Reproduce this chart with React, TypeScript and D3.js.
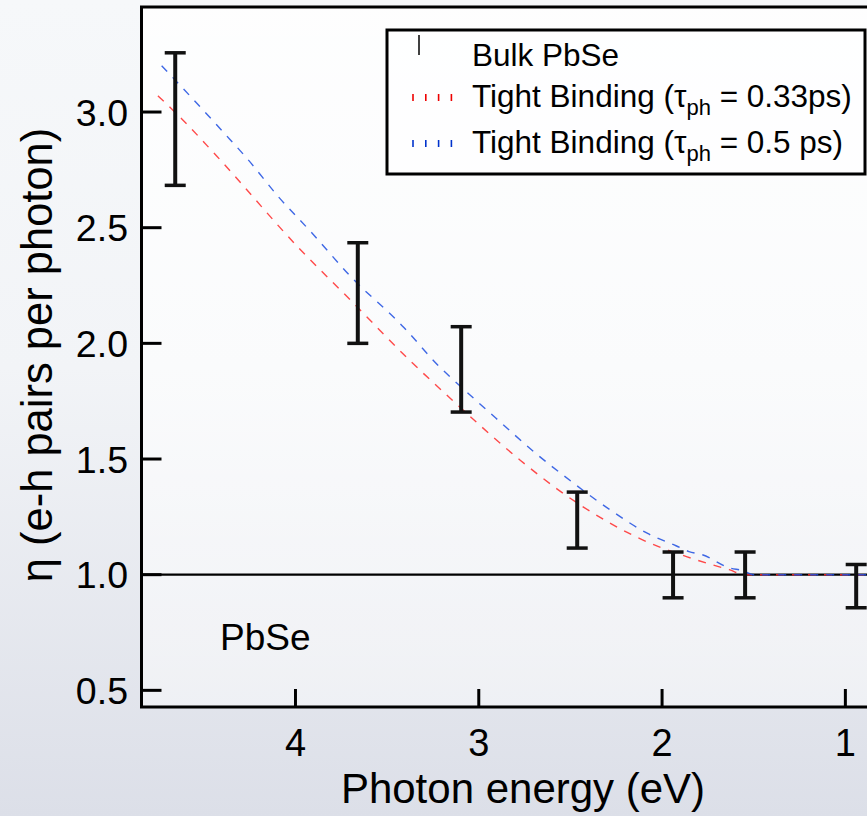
import React from "react";
import * as d3 from "d3";

const W = 867;
const H = 816;

const xTicks = [4, 3, 2, 1];
const yTicks = [0.5, 1.0, 1.5, 2.0, 2.5, 3.0];

// Bulk PbSe error bars: energy (eV), low, high
const bulkEnergy = [4.656, 3.66, 3.096, 2.463, 1.94, 1.547, 0.941];
const bulkLow = [2.683, 2.0, 1.703, 1.115, 0.9, 0.9, 0.857];
const bulkHigh = [3.256, 2.435, 2.072, 1.357, 1.098, 1.098, 1.044];

// Tight binding tau_ph = 0.33 ps
const redEnergy = [4.75, 4.62, 4.43, 3.985, 3.7, 3.363, 3.156, 2.774, 2.572, 2.289, 2.146, 1.863, 1.71, 1.634, 1.55, 0.84];
const redEta = [3.07, 2.97, 2.81, 2.415, 2.187, 1.916, 1.763, 1.495, 1.37, 1.225, 1.165, 1.077, 1.039, 1.022, 1.0, 1.0];

// Tight binding tau_ph = 0.5 ps
const blueEnergy = [4.73, 4.57, 4.39, 4.265, 4.089, 3.91, 3.7, 3.41, 3.216, 3.08, 2.883, 2.69, 2.49, 2.283, 2.076, 1.924, 1.853, 1.78, 1.634, 1.557, 1.5, 0.84];
const blueEta = [3.2, 3.065, 2.91, 2.8, 2.63, 2.477, 2.29, 2.07, 1.9, 1.8, 1.66, 1.525, 1.4, 1.28, 1.177, 1.125, 1.1, 1.086, 1.03, 1.017, 1.0, 1.0];

const FONT = "'Liberation Sans', Arial, sans-serif";

export default function App() {
  const left = 141.5;
  const top = 7;
  const bottom = 707;
  const x = d3.scaleLinear().domain([4.84, 0.84]).range([left, left + 4 * 183.3]);
  const y = d3.scaleLinear().domain([0.428, 3.454]).range([bottom, top]);
  const right = x(0.84);

  const line = d3
    .line<[number, number]>()
    .x((d) => x(d[0]))
    .y((d) => y(d[1]))
    .curve(d3.curveMonotoneX);

  const redPts: [number, number][] = redEnergy.map((e, i) => [e, redEta[i]]);
  const bluePts: [number, number][] = blueEnergy.map((e, i) => [e, blueEta[i]]);

  const cap = 10.5;

  return (
    <svg
      width={W}
      height={H}
      style={{ position: "fixed", left: 0, top: 0, display: "block" }}
      fontFamily={FONT}
    >
      <defs>
        <linearGradient id="bg" x1="0" y1="0" x2="0" y2="1">
          <stop offset="0" stopColor="#f6f8fa" />
          <stop offset="0.45" stopColor="#f2f4f7" />
          <stop offset="1" stopColor="#dcdfe8" />
        </linearGradient>
        <linearGradient id="pf" x1="0" y1="0" x2="0" y2="1">
          <stop offset="0" stopColor="#ffffff" stopOpacity="0.85" />
          <stop offset="1" stopColor="#ffffff" stopOpacity="0.45" />
        </linearGradient>
        <clipPath id="clip">
          <rect x={left} y={top} width={right - left} height={bottom - top} />
        </clipPath>
      </defs>
      <rect x={0} y={0} width={W} height={H} fill="url(#bg)" />
      <rect x={left} y={top} width={right - left} height={bottom - top} fill="url(#pf)" />

      {/* reference line at eta = 1 */}
      <line x1={left} x2={right} y1={y(1)} y2={y(1)} stroke="#000" strokeWidth={2.2} />

      <g clipPath="url(#clip)">
        <path d={line(redPts) || ""} fill="none" stroke="#ff2a2a" strokeOpacity={0.85} strokeWidth={1.4} strokeDasharray="8,8" />
        <path d={line(bluePts) || ""} fill="none" stroke="#1d4ee0" strokeOpacity={0.85} strokeWidth={1.4} strokeDasharray="8,8" />
      </g>

      {/* error bars */}
      {bulkEnergy.map((e, i) => {
        const cx = x(e);
        return (
          <g key={i} stroke="#111" fill="none">
            <line x1={cx} x2={cx} y1={y(bulkLow[i])} y2={y(bulkHigh[i])} strokeWidth={4} />
            <line x1={cx - cap} x2={cx + cap} y1={y(bulkLow[i])} y2={y(bulkLow[i])} strokeWidth={3.5} />
            <line x1={cx - cap} x2={cx + cap} y1={y(bulkHigh[i])} y2={y(bulkHigh[i])} strokeWidth={3.5} />
          </g>
        );
      })}

      {/* frame */}
      <path
        d={`M${right},${top} L${left},${top} L${left},${bottom} L${right},${bottom}`}
        fill="none"
        stroke="#000"
        strokeWidth={3}
      />
      <line x1={right} x2={right} y1={top} y2={bottom} stroke="#000" strokeWidth={3} />

      {/* y ticks */}
      {yTicks.map((t) => (
        <g key={t}>
          <line x1={left} x2={left + 20} y1={y(t)} y2={y(t)} stroke="#000" strokeWidth={3} />
          <text x={128} y={y(t)} dy="0.36em" textAnchor="end" fontSize={37.5} fill="#000">
            {t.toFixed(1)}
          </text>
        </g>
      ))}

      {/* x ticks */}
      {xTicks.map((t) => (
        <g key={t}>
          <line x1={x(t)} x2={x(t)} y1={bottom} y2={bottom - 18} stroke="#000" strokeWidth={3} />
          <text x={x(t)} y={756} textAnchor="middle" fontSize={38} fill="#000">
            {t}
          </text>
        </g>
      ))}

      <text x={(340 + 706) / 2} y={803} textAnchor="middle" fontSize={42} fill="#000">
        Photon energy (eV)
      </text>
      <text
        transform={`translate(52,${(98 + 612) / 2}) rotate(-90)`}
        textAnchor="middle"
        fontSize={43.5}
        fill="#000"
      >
        η (e-h pairs per photon)
      </text>

      <text x={220} y={650} fontSize={37} fill="#000">
        PbSe
      </text>

      {/* legend */}
      <rect x={387} y={30} width={478} height={144} fill="#ffffff" fillOpacity={0.55} stroke="#000" strokeWidth={3} />
      <line x1={419} x2={419} y1={35} y2={55} stroke="#000" strokeWidth={1.5} />
      {[0, 1, 2, 3].map((k) => (
        <g key={k}>
          <line x1={413 + k * 12.8} x2={413 + k * 12.8} y1={94} y2={101} stroke="#ee0000" strokeWidth={1.6} />
          <line x1={413 + k * 12.8} x2={413 + k * 12.8} y1={140} y2={147} stroke="#0033cc" strokeWidth={1.6} />
        </g>
      ))}
      <text x={472} y={66} fontSize={31.5} fill="#000">
        Bulk PbSe
      </text>
      <text x={472} y={107} fontSize={31.5} fill="#000">
        Tight Binding (τ
        <tspan fontSize={22} dy={8}>ph</tspan>
        <tspan dy={-8}> = 0.33ps)</tspan>
      </text>
      <text x={472} y={153} fontSize={31.5} fill="#000">
        Tight Binding (τ
        <tspan fontSize={22} dy={8}>ph</tspan>
        <tspan dy={-8}> = 0.5 ps)</tspan>
      </text>
    </svg>
  );
}
